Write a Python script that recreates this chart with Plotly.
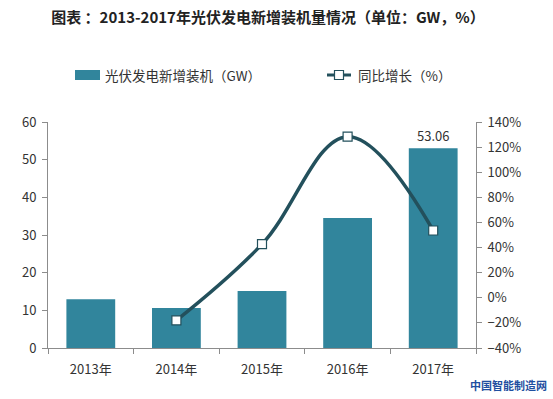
import plotly.graph_objects as go

years = ["2013年", "2014年", "2015年", "2016年", "2017年"]
capacity_gw = [12.92, 10.6, 15.13, 34.54, 53.06]
growth_pct = [None, -18.0, 42.7, 128.3, 53.6]
label_2017 = "53.06"
bar_name = "光伏发电新增装机（GW）"
line_name = "同比增长（%）"

bar_color = "#31859C"
line_color = "#23505C"
font_fam = "Noto Sans CJK SC, Noto Sans, sans-serif"

W, H = 553, 399
L, R, T, B = 48, 77, 122, 51
pw, ph = W - L - R, H - T - B


def px(x):
    return (x - L) / pw


def py(y):
    return (H - B - y) / ph


fig = go.Figure()
fig.add_trace(go.Bar(
    x=years, y=capacity_gw, name=bar_name,
    marker=dict(color=bar_color, line=dict(width=0)),
    width=0.57,
    text=["", "", "", "", label_2017], textposition="outside",
    textfont=dict(size=13, color="#333333", family=font_fam),
    cliponaxis=False, showlegend=False, hoverinfo="skip",
    yaxis="y",
))
fig.add_trace(go.Scatter(
    x=years, y=growth_pct, name=line_name,
    mode="lines+markers",
    line=dict(color=line_color, width=3.5, shape="spline", smoothing=1.1),
    marker=dict(symbol="square", size=9, color="white",
                line=dict(color=line_color, width=1.2)),
    connectgaps=False, showlegend=False, hoverinfo="skip",
    yaxis="y2",
))

shapes = [
    dict(type="rect", xref="paper", yref="paper", x0=px(75), x1=px(100),
         y0=py(80), y1=py(70), fillcolor=bar_color, line=dict(width=0)),
    dict(type="line", xref="paper", yref="paper", x0=px(327), x1=px(351),
         y0=py(75), y1=py(75), line=dict(color=line_color, width=3)),
    dict(type="rect", xref="paper", yref="paper", x0=px(334.5), x1=px(343.5),
         y0=py(79.5), y1=py(70.5), fillcolor="white",
         line=dict(color=line_color, width=1.2)),
]

annotations = [
    dict(text=bar_name, x=px(103), y=py(75), xref="paper", yref="paper",
         xanchor="left", yanchor="middle", showarrow=False,
         font=dict(size=13.5, color="#333333")),
    dict(text=line_name, x=px(356), y=py(75), xref="paper", yref="paper",
         xanchor="left", yanchor="middle", showarrow=False,
         font=dict(size=13.5, color="#333333")),
    dict(text="<b>中国智能制造网</b>", x=px(509), y=py(385), xref="paper", yref="paper",
         xanchor="center", yanchor="middle", showarrow=False,
         font=dict(size=11, color="#1f4fa0")),
]

fig.update_layout(
    width=W, height=H,
    margin=dict(l=L, r=R, t=T, b=B, autoexpand=False),
    paper_bgcolor="white", plot_bgcolor="white",
    font=dict(family=font_fam, size=13, color="#333333"),
    title=dict(text="<b>图表 ：2013-2017年光伏发电新增装机量情况（单位：GW，%）</b>",
               x=px(268), xanchor="center", xref="paper", y=1 - 18 / H, yanchor="middle",
               font=dict(size=15, color="#222222", family=font_fam)),
    showlegend=False,
    hovermode=False,
    xaxis=dict(showline=True, linecolor="#8c8c8c", linewidth=1,
               ticks="outside", tickson="boundaries", ticklen=5, tickcolor="#8c8c8c",
               ticklabelstandoff=9,
               tickfont=dict(size=13, color="#333333"), showgrid=False, automargin=False),
    yaxis=dict(range=[0, 60], dtick=10, showline=True, linecolor="#8c8c8c",
               ticks="outside", ticklen=5, tickcolor="#8c8c8c", showgrid=False,
               ticklabelstandoff=3,
               zeroline=False, tickfont=dict(size=13, color="#333333"), automargin=False),
    yaxis2=dict(range=[-40, 140], dtick=20, overlaying="y", side="right",
                showline=True, linecolor="#8c8c8c", ticks="outside", ticklen=5,
                tickcolor="#8c8c8c", showgrid=False, zeroline=False,
                ticklabelstandoff=3,
                ticksuffix="%", tickfont=dict(size=13, color="#333333"), automargin=False),
    shapes=shapes,
    annotations=annotations,
)

fig.write_html("out.html", config={"displayModeBar": False},
               post_script="document.body.style.margin='0';document.body.style.overflow='hidden';")
